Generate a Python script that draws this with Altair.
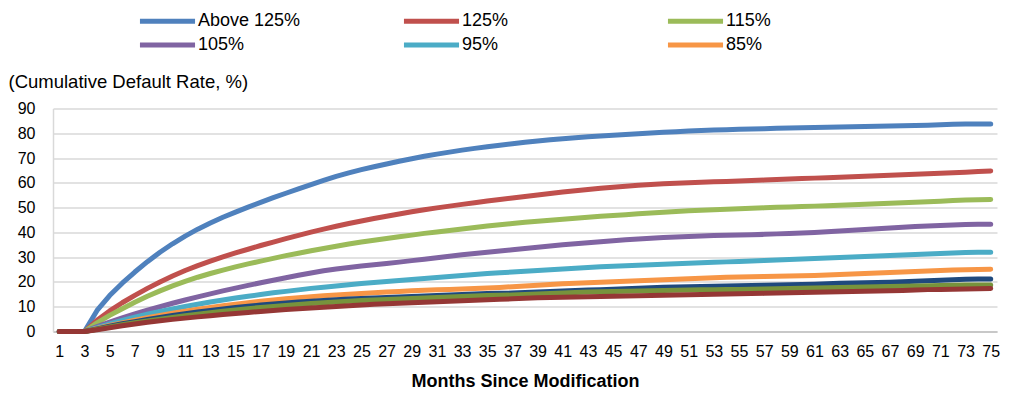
import altair as alt
import pandas as pd

# Months since modification
months = list(range(1, 76))

# Cumulative default rate (%) by mark-to-market LTV bucket
above_125 = [0, 0, 0, 8.5, 14.5, 19.5, 24, 28.2, 32, 35.4, 38.5, 41.3, 43.8, 46.1, 48.2,
             50.2, 52.1, 54, 55.8, 57.6, 59.3, 61, 62.6, 64, 65.3, 66.5, 67.6, 68.7, 69.7,
             70.7, 71.6, 72.4, 73.2, 73.9, 74.6, 75.2, 75.8, 76.4, 76.9, 77.4, 77.8, 78.2,
             78.6, 78.9, 79.2, 79.5, 79.8, 80.1, 80.4, 80.6, 80.9, 81.1, 81.3, 81.4, 81.6,
             81.7, 81.8, 82, 82.1, 82.2, 82.3, 82.4, 82.5, 82.6, 82.7, 82.8, 82.9, 83, 83.1,
             83.2, 83.4, 83.6, 83.7, 83.7, 83.7]
ltv_125 = [0, 0, 0, 4.5, 8.3, 11.6, 14.6, 17.4, 20, 22.4, 24.6, 26.6, 28.4, 30.1, 31.7,
           33.2, 34.7, 36.1, 37.5, 38.8, 40.1, 41.3, 42.5, 43.6, 44.6, 45.6, 46.5, 47.4,
           48.3, 49.1, 49.9, 50.6, 51.3, 52, 52.7, 53.3, 53.9, 54.5, 55.1, 55.7, 56.3, 56.8,
           57.3, 57.8, 58.2, 58.6, 59, 59.3, 59.6, 59.8, 60, 60.2, 60.4, 60.5, 60.7, 60.9,
           61.1, 61.3, 61.5, 61.7, 61.9, 62.1, 62.3, 62.5, 62.7, 62.9, 63.1, 63.3, 63.5,
           63.7, 63.9, 64.1, 64.3, 64.6, 64.8]
ltv_115 = [0, 0, 0, 3.5, 6.5, 9.2, 11.8, 14.2, 16.4, 18.4, 20.2, 21.9, 23.4, 24.8, 26.1,
           27.3, 28.4, 29.5, 30.6, 31.6, 32.6, 33.5, 34.4, 35.3, 36.1, 36.8, 37.5, 38.2,
           38.9, 39.6, 40.2, 40.8, 41.4, 42, 42.6, 43.1, 43.6, 44.1, 44.5, 44.9, 45.3, 45.7,
           46.1, 46.5, 46.8, 47.1, 47.5, 47.8, 48.1, 48.4, 48.7, 48.9, 49.1, 49.3, 49.5,
           49.7, 49.9, 50.1, 50.2, 50.4, 50.6, 50.8, 51, 51.2, 51.4, 51.6, 51.8, 52, 52.2,
           52.4, 52.6, 52.9, 53.1, 53.2, 53.3]
ltv_105 = [0, 0, 0, 2, 3.8, 5.5, 7.1, 8.6, 10, 11.4, 12.7, 14, 15.2, 16.4, 17.5, 18.6,
           19.7, 20.7, 21.7, 22.7, 23.6, 24.5, 25.2, 25.8, 26.4, 26.9, 27.4, 28, 28.6, 29.2,
           29.8, 30.4, 31, 31.5, 32, 32.5, 33, 33.5, 34, 34.5, 35, 35.4, 35.8, 36.2, 36.6,
           37, 37.3, 37.6, 37.9, 38.1, 38.3, 38.5, 38.7, 38.8, 38.9, 39, 39.2, 39.4, 39.6,
           39.8, 40, 40.3, 40.6, 40.9, 41.2, 41.5, 41.8, 42.1, 42.4, 42.6, 42.8, 43, 43.2,
           43.3, 43.3]
ltv_95 = [0, 0, 0, 1.6, 3.1, 4.5, 5.8, 7, 8.1, 9.1, 10.1, 11, 11.9, 12.7, 13.5, 14.2, 14.9,
          15.6, 16.2, 16.8, 17.4, 17.9, 18.4, 18.9, 19.4, 19.8, 20.2, 20.6, 21, 21.4, 21.8,
          22.2, 22.6, 23, 23.4, 23.7, 24, 24.3, 24.6, 24.9, 25.2, 25.5, 25.8, 26.1, 26.3,
          26.5, 26.7, 26.9, 27.1, 27.3, 27.5, 27.7, 27.9, 28.1, 28.3, 28.5, 28.7, 28.9,
          29.1, 29.3, 29.5, 29.7, 29.9, 30.1, 30.3, 30.5, 30.7, 30.9, 31.1, 31.3, 31.5,
          31.7, 31.9, 32, 32]
ltv_85 = [0, 0, 0, 1.2, 2.4, 3.5, 4.6, 5.6, 6.5, 7.4, 8.2, 9, 9.7, 10.4, 11, 11.6, 12.2,
          12.7, 13.2, 13.6, 14, 14.4, 14.7, 15, 15.3, 15.6, 15.9, 16.1, 16.4, 16.6, 16.8,
          17, 17.2, 17.4, 17.6, 17.8, 18.1, 18.4, 18.7, 19, 19.3, 19.5, 19.7, 19.9, 20.1,
          20.3, 20.5, 20.7, 20.9, 21.1, 21.3, 21.5, 21.7, 21.9, 22, 22.1, 22.2, 22.3, 22.4,
          22.5, 22.6, 22.8, 23, 23.2, 23.4, 23.6, 23.8, 24, 24.2, 24.4, 24.6, 24.8, 24.9,
          25, 25.1]
ltv_75 = [0, 0, 0, 1, 2.1, 3.1, 4, 4.9, 5.7, 6.5, 7.2, 7.9, 8.5, 9.1, 9.7, 10.2, 10.7,
          11.1, 11.5, 11.9, 12.2, 12.5, 12.8, 13.1, 13.3, 13.5, 13.7, 13.9, 14.1, 14.3,
          14.5, 14.7, 14.9, 15.1, 15.3, 15.4, 15.5, 15.7, 15.9, 16.1, 16.3, 16.5, 16.7,
          16.9, 17.1, 17.3, 17.5, 17.7, 17.9, 18, 18.1, 18.2, 18.3, 18.4, 18.5, 18.6, 18.7,
          18.8, 18.9, 19, 19.1, 19.3, 19.5, 19.6, 19.7, 19.8, 19.9, 20.1, 20.3, 20.5, 20.7,
          20.9, 21.1, 21.2, 21.2]
ltv_65 = [0, 0, 0, 0.9, 1.8, 2.7, 3.5, 4.3, 5, 5.7, 6.4, 7, 7.6, 8.2, 8.7, 9.2, 9.7, 10.1,
          10.5, 10.9, 11.3, 11.6, 11.9, 12.2, 12.5, 12.7, 12.9, 13.1, 13.3, 13.5, 13.7,
          13.9, 14.1, 14.3, 14.5, 14.6, 14.7, 14.9, 15.1, 15.3, 15.5, 15.7, 15.9, 16, 16.1,
          16.2, 16.3, 16.4, 16.5, 16.6, 16.7, 16.8, 16.9, 16.95, 17, 17.1, 17.2, 17.3, 17.4,
          17.5, 17.6, 17.7, 17.8, 17.9, 18, 18.1, 18.2, 18.3, 18.4, 18.5, 18.6, 18.7, 18.8,
          18.8, 18.8]
below_65 = [0, 0, 0, 0.7, 1.5, 2.3, 3, 3.7, 4.3, 4.9, 5.4, 5.9, 6.4, 6.9, 7.3, 7.7, 8.1,
            8.5, 8.9, 9.2, 9.5, 9.8, 10.1, 10.4, 10.7, 11, 11.2, 11.4, 11.6, 11.8, 12, 12.2,
            12.4, 12.6, 12.8, 13, 13.2, 13.4, 13.6, 13.7, 13.8, 13.9, 14, 14.1, 14.2, 14.3,
            14.4, 14.5, 14.6, 14.7, 14.8, 14.9, 15, 15.1, 15.2, 15.3, 15.4, 15.5, 15.6,
            15.7, 15.8, 15.9, 16, 16.1, 16.2, 16.3, 16.4, 16.5, 16.7, 16.9, 17, 17.1, 17.2,
            17.3, 17.4]

series_names = ["Above 125%", "125%", "115%", "105%", "95%", "85%", "75%", "65%", "Below 65%"]
series_values = [above_125, ltv_125, ltv_115, ltv_105, ltv_95, ltv_85, ltv_75, ltv_65, below_65]
series_colors = ["#4F81BD", "#C0504D", "#9BBB59", "#8064A2", "#4BACC6", "#F79646",
                 "#1F497D", "#77933C", "#953735"]
legend_names = series_names[:6]
x_labels = list(range(1, 76, 2))
y_labels = list(range(0, 100, 10))

rows = []
for order, (name, values) in enumerate(zip(series_names, series_values)):
    for m, v in zip(months, values):
        rows.append({"month": m, "rate": v, "series": name, "order": order})
df = pd.DataFrame(rows)

FONT = "Liberation Sans"

# long horizontal stroke for the legend keys (path units span -1..1 of the symbol box)
legend_key = "M-3.06,0L3.06,0"

chart = alt.Chart(df).mark_line(
    strokeWidth=5, strokeCap="round", strokeJoin="round"
).encode(
    x=alt.X("month:Q",
            scale=alt.Scale(domain=[0.5, 75.5], nice=False, zero=False),
            axis=alt.Axis(values=x_labels, title="Months Since Modification",
                          grid=False, ticks=False, labelFlush=False, labelOverlap=False,
                          labelFontSize=16, labelPadding=12, labelColor="#000000",
                          domainColor="#BFBFBF", domainWidth=1.5,
                          titleFontSize=18, titleFontWeight="bold", titleColor="#000000",
                          titleBaseline="middle", titleY=49.5)),
    y=alt.Y("rate:Q",
            scale=alt.Scale(domain=[0, 90], nice=False),
            axis=alt.Axis(values=y_labels, title="(Cumulative Default Rate, %)",
                          grid=True, gridColor="#D9D9D9", gridWidth=1.5,
                          ticks=False, labelFontSize=16, labelPadding=18,
                          labelColor="#000000", domainColor="#D9D9D9", domainWidth=1.5,
                          titleAngle=0, titleAlign="left", titleBaseline="middle",
                          titleX=-45, titleY=-27, titleFontSize=18.5,
                          titleFontWeight="normal", titleColor="#000000")),
    color=alt.Color("series:N",
                    scale=alt.Scale(domain=series_names, range=series_colors),
                    legend=alt.Legend(values=legend_names, title=None, orient="none",
                                      direction="horizontal",
                                      legendX=103, legendY=-99, columns=3,
                                      gridAlign="all", columnPadding=92, rowPadding=2,
                                      symbolType=legend_key, symbolSize=324,
                                      symbolStrokeWidth=5, labelFontSize=18,
                                      labelOffset=19, labelColor="#000000", padding=0,
                                      labelLimit=300)),
    order=alt.Order("order:Q"),
    detail="series:N",
).properties(
    width=944,
    height=223,
    autosize=alt.AutoSizeParams(type="none"),
    padding={"left": 53, "top": 108.5, "right": 16, "bottom": 61.5},
).configure(
    font=FONT,
    background="#FFFFFF",
).configure_view(
    stroke=None,
)

chart.save("out.html", embed_options={"renderer": "svg", "actions": False})
